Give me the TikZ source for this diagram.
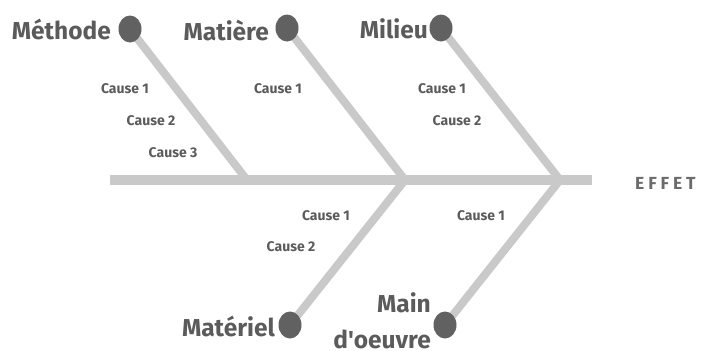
\documentclass[tikz,border=0pt]{standalone}
\usepackage{fontspec}
\newfontfamily\labelfont{Fira Sans}
\usetikzlibrary{backgrounds,shapes.geometric}
\definecolor{bone}{HTML}{C9C9C9}
\definecolor{head}{HTML}{616161}
\definecolor{ink}{HTML}{5B5B5B}
\tikzset{
  x=1pt, y=-1pt,
  bonestyle/.style={draw=bone, line width=8pt},
  spinestyle/.style={draw=bone, line width=10pt},
  knob/.style={ellipse, fill=head, minimum width=23pt, minimum height=27pt, inner sep=0pt},
  catlabel/.style={font=\labelfont\fontsize{24.5}{36}\selectfont\bfseries, text=ink, inner sep=0pt},
  causelabel/.style={font=\labelfont\fontsize{14}{16}\selectfont\bfseries, text=ink, inner sep=0pt},
}
\begin{document}
\begin{tikzpicture}
\useasboundingbox (0,0) rectangle (705,351);

% spine and its junctions
\coordinate (tail) at (110,180);
\coordinate (tip) at (592,180);
\coordinate (j1) at (247,180);
\coordinate (j2) at (405,180);
\coordinate (j3) at (560,180);

% category knobs
\node[knob] (methode) at (130,29) {};
\node[knob] (matiere) at (287,28) {};
\node[knob] (milieu) at (441,28) {};
\node[knob] (materiel) at (290,325) {};
\node[knob] (mainoeuvre) at (445,325) {};

% bones
\begin{pgfonlayer}{background}
\draw[spinestyle] (tail) -- (tip);
\draw[bonestyle] (methode.center) -- (j1);
\draw[bonestyle] (matiere.center) -- (j2);
\draw[bonestyle] (milieu.center) -- (j3);
\draw[bonestyle] (materiel.center) -- (j2);
\draw[bonestyle] (mainoeuvre.center) -- (j3);
\end{pgfonlayer}

% category names
\node[catlabel, anchor=east] (tmethode) at (111,29) {Méthode};
\node[catlabel, anchor=east] (tmatiere) at (269,30) {Matière};
\node[catlabel, anchor=east] (tmilieu) at (428,29) {Milieu};
\node[catlabel, anchor=east] (tmateriel) at (275,326) {Matériel};
\node[catlabel, anchor=east, align=right] (tmain) at (431,321) {Main\\d'oeuvre};

% causes
\node[causelabel] (c11) at (125,89) {Cause 1};
\node[causelabel] (c12) at (151,121) {Cause 2};
\node[causelabel] (c13) at (173,153) {Cause 3};
\node[causelabel] (c21) at (278,89) {Cause 1};
\node[causelabel] (c31) at (442,89) {Cause 1};
\node[causelabel] (c32) at (457,121) {Cause 2};
\node[causelabel] (c41) at (326,216) {Cause 1};
\node[causelabel] (c42) at (291,247) {Cause 2};
\node[causelabel] (c51) at (481,216) {Cause 1};

% effect
\node[font=\labelfont\fontsize{17.5}{20}\selectfont\bfseries\addfontfeature{LetterSpace=22}, text=ink!90, anchor=west, inner sep=0pt] (effet) at (635,183) {EFFET};
\end{tikzpicture}
\end{document}
